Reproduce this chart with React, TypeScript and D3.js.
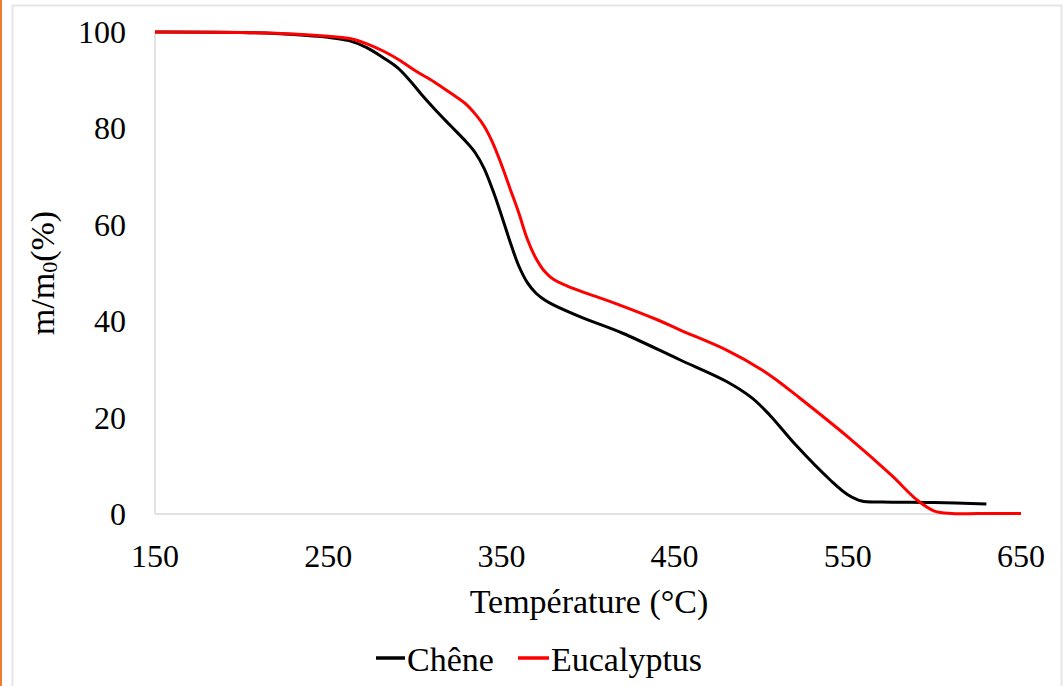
import React from 'react';
import * as d3 from 'd3';

const width = 1063;
const height = 686;

const cheneT = [150, 200, 230, 250, 262, 272, 282, 290, 297, 304, 311, 320, 330, 335, 340, 345, 350, 355, 360, 365, 370, 375, 380, 397, 420, 453, 480, 495, 505, 520, 540, 550, 558, 570, 600, 630];
const cheneM = [100, 99.9, 99.5, 98.9, 98.2, 96.8, 94.6, 92.6, 90.0, 87.0, 84.2, 80.8, 77.1, 74.9, 71.7, 67.2, 62.0, 56.5, 51.5, 48.0, 45.8, 44.4, 43.4, 40.7, 37.5, 32.0, 27.5, 24.0, 20.5, 14.3, 7.0, 4.0, 2.7, 2.5, 2.4, 2.1];

const eucaT = [150, 200, 230, 250, 263, 272, 282, 291, 301, 311, 320, 330, 336, 340, 345, 350, 355, 360, 365, 370, 375, 380, 388, 418, 440, 453, 480, 500, 510, 520, 550, 575, 590, 600, 610, 625, 650];
const eucaM = [100, 99.9, 99.6, 99.1, 98.6, 97.6, 96.0, 94.2, 91.8, 89.7, 87.5, 84.9, 82.5, 80.5, 77.0, 72.5, 67.5, 62.5, 57.0, 53.0, 50.3, 48.7, 47.3, 43.4, 40.3, 38.2, 34.0, 30.0, 27.5, 24.7, 16.0, 8.1, 2.9, 0.6, 0.1, 0.1, 0.1];

const xTicks = [150, 250, 350, 450, 550, 650];
const yTicks = [0, 20, 40, 60, 80, 100];

const series = [
  { name: 'Chêne', t: cheneT, m: cheneM, color: '#000000' },
  { name: 'Eucalyptus', t: eucaT, m: eucaM, color: '#ff0000' },
];

const x = d3.scaleLinear().domain([150, 650]).range([155, 1021]);
const y = d3.scaleLinear().domain([0, 100]).range([514, 32]);

const line = d3.line<[number, number]>()
  .x(d => x(d[0]))
  .y(d => y(d[1]))
  .curve(d3.curveCatmullRom.alpha(0.5));

const font = 'Liberation Serif, Times New Roman, serif';
const tickSize = 32;
const labelSize = 34;

export default function App() {
  return (
    <svg
      width={width}
      height={height}
      style={{ position: 'absolute', left: 0, top: 0, background: 'white' }}
      fontFamily={font}
    >
      <rect x={0} y={0} width={width} height={height} fill="white" />
      <line x1={1} x2={1} y1={0} y2={height} stroke="#ed7d31" strokeWidth={2} />
      <rect x={12.5} y={5.5} width={1049} height={700} fill="none" stroke="#e6e6e6" strokeWidth={2} />

      {/* axes */}
      <line x1={x(150)} x2={x(150)} y1={y(100)} y2={y(0)} stroke="#d9d9d9" strokeWidth={1.5} />
      <line x1={x(150)} x2={x(650)} y1={y(0)} y2={y(0)} stroke="#d9d9d9" strokeWidth={1.5} />

      {yTicks.map(v => (
        <text key={v} x={126} y={y(v)} textAnchor="end" dominantBaseline="central" fontSize={tickSize}>
          {v}
        </text>
      ))}
      {xTicks.map(v => (
        <text key={v} x={x(v)} y={556} textAnchor="middle" dominantBaseline="central" fontSize={tickSize}>
          {v}
        </text>
      ))}

      {series.map(s => (
        <path
          key={s.name}
          d={line(s.t.map((t, i) => [t, s.m[i]] as [number, number])) || ''}
          fill="none"
          stroke={s.color}
          strokeWidth={3}
          strokeLinejoin="round"
        />
      ))}

      <text x={589} y={601} textAnchor="middle" dominantBaseline="central" fontSize={labelSize}>
        Température (°C)
      </text>
      <text
        transform="translate(42,273) rotate(-90)"
        textAnchor="middle"
        dominantBaseline="central"
        fontSize={labelSize}
      >
        m/m<tspan fontSize={22} dy={7}>0</tspan><tspan dy={-7}>(%)</tspan>
      </text>

      {/* legend */}
      <line x1={376} x2={405} y1={658} y2={658} stroke="#000000" strokeWidth={3.5} />
      <text x={407} y={659} dominantBaseline="central" fontSize={labelSize}>Chêne</text>
      <line x1={518} x2={549} y1={658} y2={658} stroke="#ff0000" strokeWidth={3.5} />
      <text x={551} y={659} dominantBaseline="central" fontSize={labelSize}>Eucalyptus</text>
    </svg>
  );
}
